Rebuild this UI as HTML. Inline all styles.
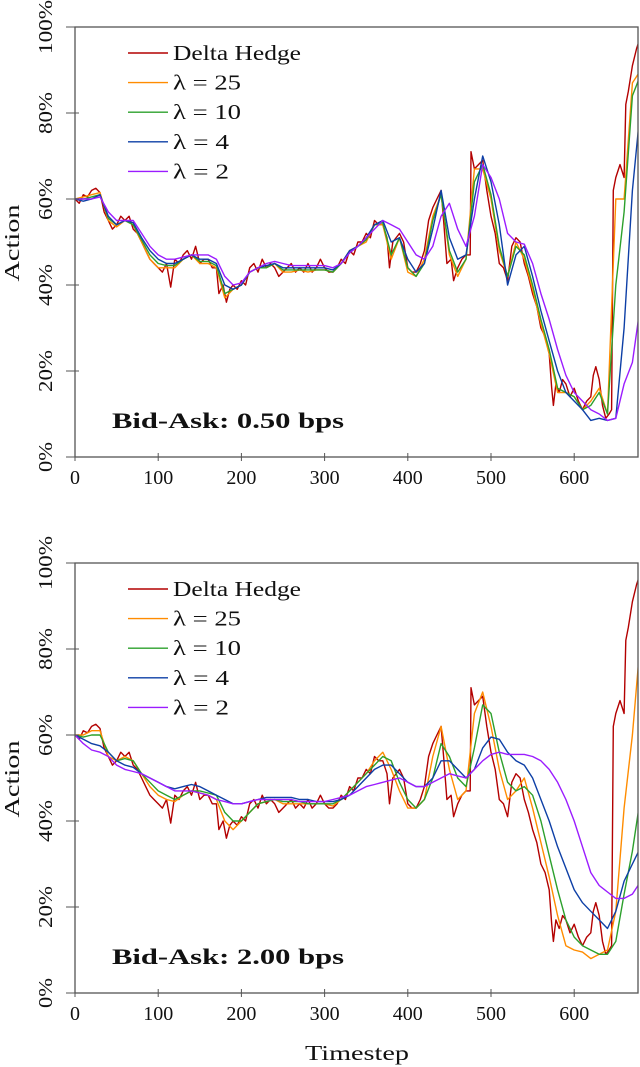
<!DOCTYPE html>
<html><head><meta charset="utf-8"><style>
body{margin:0;background:#fff;width:640px;height:1067px;overflow:hidden}
svg{display:block}
text{font-family:"Liberation Serif","DejaVu Serif",serif;fill:#111}
</style></head><body>
<svg id="fig" width="640" height="1067" viewBox="0 0 640 1067"></svg>
<script>
// ---- data ----
const deltaT=[0,5,10,15,20,25,30,35,40,45,50,55,60,65,70,75,80,85,90,95,100,105,110,115,120,125,130,135,140,145,150,155,160,165,170,173,178,182,186,190,195,200,205,210,215,220,225,230,235,240,245,250,255,260,265,270,275,280,285,290,295,300,305,310,315,320,325,330,335,340,345,350,355,360,365,370,375,378,382,390,395,400,405,410,415,420,425,430,435,440,443,447,452,455,460,465,470,475,476,480,485,490,495,500,505,510,515,520,525,530,535,540,545,550,555,560,565,570,573,575,578,582,586,590,595,600,605,610,615,620,623,626,630,634,638,642,645,647,650,655,660,662,665,670,675,680];
const deltaV=[60,59,61,60.5,62,62.5,61.5,57,55,53,54,56,55,56,53,52,50,48,46,45,44,43,45,39.5,46,45,47,48,46,49,45,46,46,44,44,38,40,36,39,40,39,41,40,44,45,43,46,44,45,44,42,43,44,45,43,44,43,45,43,44,46,44,43,43,44,46,45,48,47,50,50,52,51,55,54,54,51,44,50,52,50,44,43,43,45,48,55,58,60,62,55,45,46,41,44,46,47,47,71,67,68,69,62,56,52,45,44,41,49,51,50,45,42,38,35,30,28,24,16,12,17,15,18,17,14,16,13,11,13,14,19,21,18,12,9,10,11,62,65,68,65,82,85,91,95,98];
const stepT=[0,10,20,30,40,50,60,70,80,90,100,110,120,130,140,150,160,170,180,190,200,210,220,230,240,250,260,270,280,290,300,310,320,330,340,350,360,370,380,390,400,410,420,430,440,450,460,470,480,490,500,510,520,530,540,550,560,570,580,590,600,610,620,630,640,650,660,670,680];
const top25=[60,60.5,61,61.5,55,53.5,55,54,50,46,44,44,44,46,47,45,45,44,37,39,40,43,44,44,45,43,43,43.5,43,43.5,43.5,43,45,48,49,50,54,54,46,51,43,42,46,56,61,47,42,46,67,67,60,48,42,50,46,39,31,24,15,15,14,11,13,16,10,60,60,87,90];
const top10=[60,60,60.5,61,55.5,54,55,54,50.5,47,45,44.5,44.5,46,47,45.5,45.5,44.5,38,39,40,43,44,44,45,43.5,43.5,43.5,43.5,43.5,43.5,43,45,47.5,49,50.5,54,54.5,47,51,44,42,45,55,61,48,43,46,64,68,61,49,42,49,47,40,32,25,16,15,14,11,12,15,10,40,57,84,89];
const top4=[60,59.5,60,61,56,54,55,54.5,51,48,46,45,45,46,47,46,46,45,40,39,40,43,44,44.5,45,44,44,44,44,44,44,43.5,45,48,49,51,54,55,50,51,46,43,45,53,62,51,46,47,60,70,64,54,40,47,49,42,34,27,20,15,13,11,8.5,9,8.5,9,30,62,82];
const top2=[60,60,60,60.5,57,55,55,55,52,49,47,46,46,46.5,47,47,47,46,42,40,40.5,43,44,45,45.5,45,44.5,44.5,44.5,44.5,44.5,44,45,47.5,49,51,53,55,54,53,50,47,46,49,56,59,53,49,56,68,65,60,52,50,49.5,45,38,32,25,19,15,13,11,10,8.5,9,17,22,36];
const bot25=[60,60,61,61,55,54,55,54,51,48,46,45,44.5,46,47,46.5,46,45,40,38,40,42,44,44.5,45,44,44,44,44,44,44,43.5,45,47,49,51,54,56,52,47,43,43,45,55,62,52,45,47,65,70,62,52,45,47,50,43,35,27,18,11,10,9.5,8,9,10,19,43,60,83];
const bot10=[60,59.5,60,60,56,54,54.5,54,51,49,47,46,45,46,47,47,46.5,46,42,40,40,42,44,44.5,45,44.5,44.5,44.5,44,44,44,44,45,47,49,51,53,55,54,49,45,43,45,50,58,55,50,48,57,67,65,56,49,47,48,46,40,32,24,17,13,11,10,9,9,12,23,33,46];
const bot4=[60,59,58,57.5,56,54,53,52.5,51,50,49,48,47.5,48,48.5,48,47,46,45,44,44,44.5,45,45.5,45.5,45.5,45.5,45,45,44.5,44.5,44.5,45,46,48,50,52,53,53,51,49,48,48,50,54,54,52,50,52,57,59.5,59,56,54,53,50,45,40,34,29,24,21,19,17,15,19,26,30,34];
const bot2=[60,58,56.5,56,55,53,52,51.5,51,50,49,48,47,47,47,46.5,46,45,44.5,44,44,44.5,45,45,45,45,45,44.5,44.5,44.5,44.5,45,45.5,46,47,48,48.5,49,49.5,50,49,48,48,49,50,51,50.5,50,52,54,55.5,56,55.5,55.5,55.5,55,54,52,49,45,40,34,28,25,23.5,22,22,23,26];
const xTicks=[0,100,200,300,400,500,600];
const yTicks=[0,20,40,60,80,100];
const legendLabels=["Delta Hedge","λ = 25","λ = 10","λ = 4","λ = 2"];
const colors=["#b30000","#ff8c00","#2ca02c","#0d3fa6","#9b1cff"];

const NS="http://www.w3.org/2000/svg";
const fig=document.getElementById('fig');
function mk(tag,attrs,parent){const e=document.createElementNS(NS,tag);for(const k in attrs)e.setAttribute(k,attrs[k]);(parent||fig).appendChild(e);return e;}

function chart(idx,top,series,label){
  const L=75,R=638,T=top,B=top+430;
  const sx=t=>L+t*0.832;
  const sy=v=>B-v*(B-T)/100;
  const g=mk('g',{});
  
  
  const cp=mk('clipPath',{id:'cp'+idx},g);
  mk('rect',{x:L,y:T,width:R-L,height:B-T},cp);
  series.forEach((s,i)=>{
    const d=s.t.map((t,j)=>(j?'L':'M')+sx(t).toFixed(1)+','+sy(s.v[j]).toFixed(1)).join('');
    const p=mk('path',{d:d,fill:'none',stroke:colors[i],'stroke-width':1.4,'clip-path':'url(#cp'+idx+')','stroke-linejoin':'round'},g);
    
    
  });
  const fr=mk('rect',{x:L,y:T,width:R-L,height:B-T,fill:'none',stroke:'#555','stroke-width':1.3},g);
  
  
  xTicks.forEach(t=>{
    mk('line',{x1:sx(t),x2:sx(t),y1:B-4,y2:B+4,stroke:'#555','stroke-width':1},g);
    const tx=mk('text',{x:sx(t),y:B+27,'text-anchor':'middle','font-size':20},g);
    tx.textContent=t;
    
    
  });
  yTicks.forEach(v=>{
    mk('line',{x1:L-9,x2:L+4,y1:sy(v),y2:sy(v),stroke:'#555','stroke-width':1},g);
    const len=v===100?54:(v===0?30:42);
    const tx=mk('text',{x:0,y:0,'text-anchor':'middle','font-size':20,textLength:len,lengthAdjust:'spacingAndGlyphs',transform:'translate(52,'+sy(v)+') rotate(-90)'},g);
    tx.textContent=v+'%';
    
    
  });
  const yl=mk('text',{x:0,y:0,'text-anchor':'middle','font-size':21,textLength:77,lengthAdjust:'spacingAndGlyphs',transform:'translate(19,'+(T+216)+') rotate(-90)'},g);
  yl.textContent='Action';
  
  
  const lens=[128,68,68,56,56];
  legendLabels.forEach((lab,i)=>{
    const y=T+26+i*29.6;
    const ln=mk('line',{x1:128,x2:168,y1:y,y2:y,stroke:colors[i],'stroke-width':1.4},g);
    
    
    const tx=mk('text',{x:173,y:y+7,'font-size':21,textLength:lens[i],lengthAdjust:'spacingAndGlyphs'},g);
    tx.textContent=lab;
    
    
  });
  const ba=mk('text',{x:112,y:T+401,'font-size':22,'font-weight':'bold',textLength:232,lengthAdjust:'spacingAndGlyphs'},g);
  ba.textContent=label;
  
  
}
chart(0,27,[{t:deltaT,v:deltaV},{t:stepT,v:top25},{t:stepT,v:top10},{t:stepT,v:top4},{t:stepT,v:top2}],'Bid-Ask:  0.50 bps');
chart(1,563,[{t:deltaT,v:deltaV},{t:stepT,v:bot25},{t:stepT,v:bot10},{t:stepT,v:bot4},{t:stepT,v:bot2}],'Bid-Ask:  2.00 bps');
const xl=mk('text',{x:357,y:1060,'text-anchor':'middle','font-size':21,textLength:104,lengthAdjust:'spacingAndGlyphs'});
xl.textContent='Timestep';


</script>
</body></html>
